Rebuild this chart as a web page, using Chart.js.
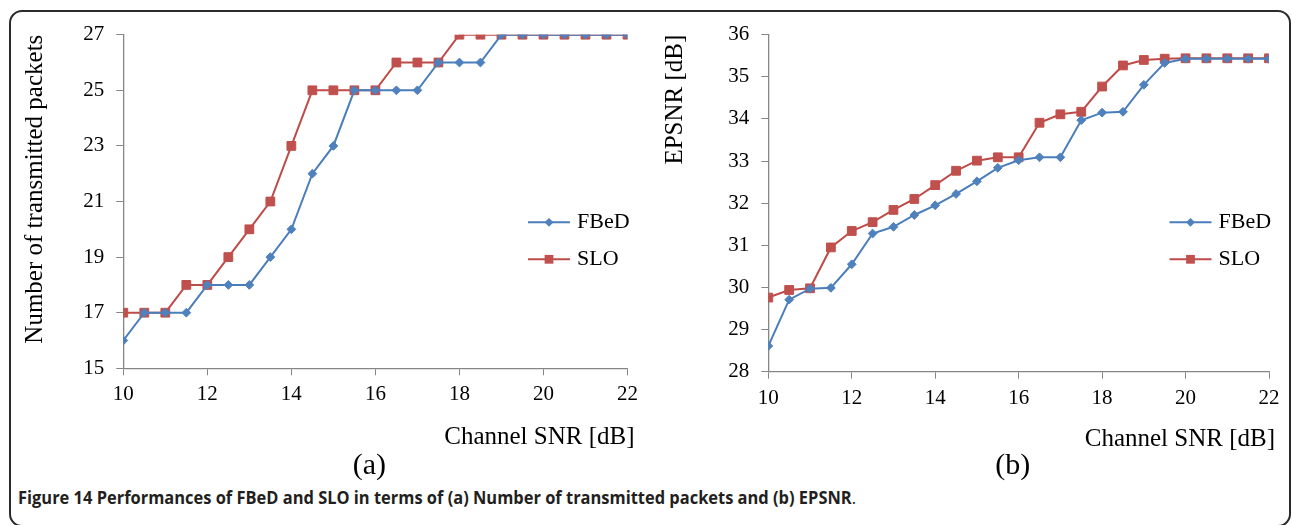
<!DOCTYPE html>
<html><head><meta charset="utf-8">
<script src="https://cdn.jsdelivr.net/npm/chart.js@4.4.0/dist/chart.umd.min.js"></script>
<style>
html,body{margin:0;padding:0;background:#fff;width:1292px;height:525px;overflow:hidden;position:relative;}
#frame{position:absolute;left:9px;top:10px;width:1278px;height:513px;border:2px solid #2b2b2b;border-radius:13px;}
#wa{position:absolute;left:0;top:0;width:645px;height:485px;}
#wb{position:absolute;left:645px;top:0;width:647px;height:485px;}
#caption{position:absolute;left:18px;top:488px;font-family:'Open Sans',sans-serif;font-weight:700;font-size:18px;line-height:1;color:#231f20;white-space:nowrap;transform-origin:0 0;}
</style></head><body>
<div id="frame"></div>
<div id="wa"><canvas id="ca" width="645" height="485" style="width:645px;height:485px"></canvas></div>
<div id="wb"><canvas id="cb" width="647" height="485" style="width:647px;height:485px"></canvas></div>
<div id="caption">Figure 14 Performances of FBeD and SLO in terms of (a) Number of transmitted packets and (b) EPSNR<span style="font-weight:400">.</span></div>
<script>
// ---- data ----
const snrValues = [10, 10.5, 11, 11.5, 12, 12.5, 13, 13.5, 14, 14.5, 15, 15.5, 16, 16.5, 17, 17.5, 18, 18.5, 19, 19.5, 20, 20.5, 21, 21.5, 22];
const packetsFBeD = [16, 17, 17, 17, 18, 18, 18, 19, 20, 22, 23, 25, 25, 25, 25, 26, 26, 26, 27, 27, 27, 27, 27, 27, 27];
const packetsSLO  = [17, 17, 17, 18, 18, 19, 20, 21, 23, 25, 25, 25, 25, 26, 26, 26, 27, 27, 27, 27, 27, 27, 27, 27, 27];
const epsnrFBeD = [28.61, 29.71, 29.97, 29.99, 30.55, 31.28, 31.44, 31.72, 31.95, 32.22, 32.52, 32.84, 33.02, 33.09, 33.09, 33.97, 34.15, 34.17, 34.81, 35.33, 35.43, 35.43, 35.43, 35.43, 35.43];
const epsnrSLO  = [29.76, 29.94, 29.98, 30.95, 31.34, 31.55, 31.84, 32.10, 32.43, 32.77, 33.01, 33.09, 33.09, 33.91, 34.11, 34.17, 34.77, 35.27, 35.40, 35.43, 35.44, 35.44, 35.44, 35.44, 35.44];
const seriesNames = ['FBeD', 'SLO'];
const xTitle = 'Channel SNR [dB]';
const yTitleA = 'Number of transmitted packets';
const yTitleB = 'EPSNR [dB]';
const subLabels = ['(a)', '(b)'];

// ---- styles ----
const BLUE_LINE = '#4a7ebb', BLUE_PT = '#4f81bd';
const RED_LINE = '#be4b48', RED_PT = '#c0504d';
const AXIS = '#868686';
const SERIF = "'Liberation Serif', 'Times New Roman', serif";

function toPoints(xs, ys) { return xs.map((x, i) => ({ x: x, y: ys[i] })); }

function makeDatasets(a, b) {
  return [
    { label: seriesNames[0], data: toPoints(snrValues, a), borderColor: BLUE_LINE, backgroundColor: BLUE_PT,
      pointBackgroundColor: BLUE_PT, pointBorderColor: BLUE_PT, pointStyle: 'rectRot', pointRadius: 4.4,
      pointBorderWidth: 1, borderWidth: 2, tension: 0 },
    { label: seriesNames[1], data: toPoints(snrValues, b), borderColor: RED_LINE, backgroundColor: RED_PT,
      pointBackgroundColor: RED_PT, pointBorderColor: RED_PT, pointStyle: 'rect', pointRadius: 6.2,
      pointBorderWidth: 1, borderWidth: 2, tension: 0 }
  ];
}

const sideLegend = {
  id: 'sideLegend',
  afterDraw(chart, args, opts) {
    const { ctx, chartArea } = chart;
    const x0 = chartArea.right - opts.offsetRight;
    chart.data.datasets.forEach((ds, i) => {
      const y = chartArea.top + opts.top + i * opts.rowGap;
      ctx.save();
      ctx.strokeStyle = ds.borderColor;
      ctx.lineWidth = ds.borderWidth;
      ctx.beginPath(); ctx.moveTo(x0, y); ctx.lineTo(x0 + opts.lineLength, y); ctx.stroke();
      const cx = x0 + opts.lineLength / 2;
      ctx.fillStyle = ds.pointBackgroundColor;
      ctx.beginPath();
      const r = ds.pointRadius;
      if (ds.pointStyle === 'rectRot') {
        ctx.moveTo(cx - r, y); ctx.lineTo(cx, y - r); ctx.lineTo(cx + r, y); ctx.lineTo(cx, y + r); ctx.closePath();
      } else {
        const s = r * Math.SQRT1_2;
        ctx.rect(cx - s, y - s, 2 * s, 2 * s);
      }
      ctx.fill();
      ctx.fillStyle = '#000';
      ctx.font = opts.font;
      ctx.textBaseline = 'middle';
      ctx.textAlign = 'left';
      ctx.fillText(ds.label, x0 + opts.lineLength + opts.textGap, y);
      ctx.restore();
    });
  }
};

// x-axis title (right aligned, slightly past plot edge) and panel label
const bottomTexts = {
  id: 'bottomTexts',
  afterDraw(chart, args, opts) {
    const { ctx, chartArea } = chart;
    ctx.save();
    ctx.fillStyle = '#000';
    ctx.textBaseline = 'middle';
    ctx.font = opts.titleFont;
    ctx.textAlign = 'right';
    ctx.fillText(opts.title, chartArea.right + opts.titleDx, chartArea.bottom + opts.titleDy);
    ctx.font = opts.subFont;
    ctx.textAlign = 'center';
    ctx.fillText(opts.sub, (chartArea.left + chartArea.right) / 2 + opts.subDx, chartArea.bottom + opts.subDy);
    ctx.restore();
  }
};

function makeChart(canvasId, a, b, cfg) {
  return new Chart(document.getElementById(canvasId), {
    type: 'line',
    data: { datasets: makeDatasets(a, b) },
    plugins: [sideLegend, bottomTexts],
    options: {
      responsive: false,
      animation: false,
      devicePixelRatio: 1,
      layout: { padding: cfg.padding },
      plugins: {
        legend: { display: false },
        tooltip: { enabled: false },
        sideLegend: { offsetRight: 99.5, top: 187.6, rowGap: 37, lineLength: 42, textGap: 7,
          font: "22px " + SERIF },
        bottomTexts: { title: xTitle, titleFont: "25px " + SERIF, titleDx: cfg.titleDx, titleDy: cfg.titleDy,
          sub: cfg.sub, subFont: "30px " + SERIF, subDx: -6, subDy: cfg.subDy }
      },
      scales: {
        x: {
          type: 'linear', min: 10, max: 22,
          afterFit(scale) { scale.height = 86; },
          ticks: { stepSize: 2, padding: 7, color: '#000', font: { family: SERIF, size: 21 } },
          grid: { drawOnChartArea: false, drawTicks: true, tickLength: 7, color: AXIS, lineWidth: 1 },
          border: { color: AXIS, width: 1.3 },
          title: { display: false }
        },
        y: {
          min: cfg.ymin, max: cfg.ymax,
          afterFit(scale) { scale.width = cfg.yWidth; },
          ticks: { stepSize: cfg.step, padding: 12, color: '#000', font: { family: SERIF, size: 21 } },
          grid: { drawOnChartArea: false, drawTicks: true, tickLength: 7, color: AXIS, lineWidth: 1 },
          border: { color: AXIS, width: 1.3 },
          title: { display: true, text: cfg.yTitle, align: 'end', color: '#000',
            font: { family: SERIF, size: 25 }, padding: { top: cfg.yTitlePad, bottom: 0 } }
        }
      }
    }
  });
}

makeChart('ca', packetsFBeD, packetsSLO, {
  padding: { top: 34.7, right: 16.7, bottom: 30.7, left: 0 },
  yWidth: 123.3, ymin: 15, ymax: 27, step: 2, yTitle: yTitleA, yTitlePad: 20.3,
  titleDx: 7, titleDy: 69.2, sub: subLabels[0], subDy: 97.7
});
makeChart('cb', epsnrFBeD, epsnrSLO, {
  padding: { top: 34.7, right: 23, bottom: 27.3, left: 0 },
  yWidth: 123.3, ymin: 28, ymax: 36, step: 1, yTitle: yTitleB, yTitlePad: 15,
  titleDx: 6, titleDy: 67.8, sub: subLabels[1], subDy: 94.3
});

// caption fit
const cap = document.getElementById('caption');
const w = cap.getBoundingClientRect().width;
cap.style.transform = 'scaleX(' + (838 / w) + ')';
</script>
</body></html>
